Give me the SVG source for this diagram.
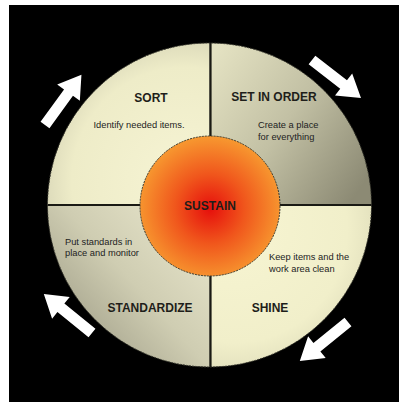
<svg xmlns="http://www.w3.org/2000/svg" width="399" height="402" viewBox="0 0 399 402">
<style>
.title{font-family:"Liberation Sans",Arial,sans-serif;font-size:12px;fill:#1e1e1a;text-anchor:middle;font-weight:bold}
.desc{font-family:"Liberation Sans",Arial,sans-serif;font-size:9.3px;fill:#222}
.arrow{fill:#ffffff}
.div{stroke:#1a1a14;stroke-width:2.2}
.edge{fill:none;stroke:#3a3a30;stroke-width:1;stroke-dasharray:2 1}
</style>
<defs>
<radialGradient id="gTL" cx="0.85" cy="0.85" r="1">
<stop offset="0" stop-color="#f6f4d4"/><stop offset="0.7" stop-color="#eeecc8"/><stop offset="1" stop-color="#cfcdb0"/>
</radialGradient>
<linearGradient id="gTR" x1="0" y1="0.1" x2="1" y2="0.8">
<stop offset="0" stop-color="#e4e2c2"/><stop offset="0.5" stop-color="#c2c0a4"/><stop offset="1" stop-color="#8c8a74"/>
</linearGradient>
<radialGradient id="gBR" cx="0.15" cy="0.15" r="1">
<stop offset="0" stop-color="#f7f5d2"/><stop offset="0.7" stop-color="#f1efca"/><stop offset="1" stop-color="#dad8b6"/>
</radialGradient>
<linearGradient id="gBL" x1="1" y1="0" x2="0" y2="0.9">
<stop offset="0" stop-color="#ecead0"/><stop offset="0.5" stop-color="#cfcdb2"/><stop offset="1" stop-color="#95937e"/>
</linearGradient>
<radialGradient id="gC" cx="0.5" cy="0.52" r="0.55">
<stop offset="0" stop-color="#e60f0c"/><stop offset="0.45" stop-color="#f0561c"/><stop offset="1" stop-color="#f8a032"/>
</radialGradient>
<polygon id="arr" points="0,-5.5 40,-5.5 40,-14 62,0 40,14 40,5.5 0,5.5"/>
</defs>
<rect x="0" y="0" width="399" height="402" fill="#ffffff"/>
<rect x="9" y="5" width="390" height="397" fill="#000000"/>
<g id="ring">
<path d="M209.5,205 L209.5,43 A162,162 0 0 0 47.5,205 Z" fill="url(#gTL)"/>
<path d="M209.5,205 L209.5,43 A162,162 0 0 1 371.5,205 Z" fill="url(#gTR)"/>
<path d="M209.5,205 L371.5,205 A162,162 0 0 1 209.5,367 Z" fill="url(#gBR)"/>
<path d="M209.5,205 L209.5,367 A162,162 0 0 1 47.5,205 Z" fill="url(#gBL)"/>
<circle cx="209.5" cy="205" r="162" class="edge"/>
</g>
<g id="connectors">
<line x1="210.5" y1="43" x2="210.5" y2="367" class="div"/>
<line x1="47.5" y1="205" x2="371.5" y2="205" class="div"/>
<use href="#arr" class="arrow" transform="translate(45,125) rotate(-54)"/>
<use href="#arr" class="arrow" transform="translate(312,60) rotate(37.8)"/>
<use href="#arr" class="arrow" transform="translate(348,322) rotate(141)"/>
<use href="#arr" class="arrow" transform="translate(92,333) rotate(219)"/>
</g>
<g id="sustain">
<circle cx="210" cy="206" r="70" fill="url(#gC)"/>
<circle cx="210" cy="206" r="70" class="edge"/>
<text x="210" y="210" class="title" fill="#3a1008">SUSTAIN</text>
</g>
<g id="sort">
<text x="151" y="102" class="title">SORT</text>
<text x="139" y="128" class="desc" text-anchor="middle">Identify needed items.</text>
</g>
<g id="setinorder">
<text x="274" y="101" class="title">SET IN ORDER</text>
<text x="258" y="128" class="desc">Create a place</text>
<text x="258" y="140" class="desc">for everything</text>
</g>
<g id="shine">
<text x="270" y="312" class="title">SHINE</text>
<text x="269" y="260" class="desc">Keep items and the</text>
<text x="269" y="272" class="desc">work area clean</text>
</g>
<g id="standardize">
<text x="150" y="312" class="title">STANDARDIZE</text>
<text x="65" y="245" class="desc">Put standards in</text>
<text x="65" y="256" class="desc">place and monitor</text>
</g>
</svg>
